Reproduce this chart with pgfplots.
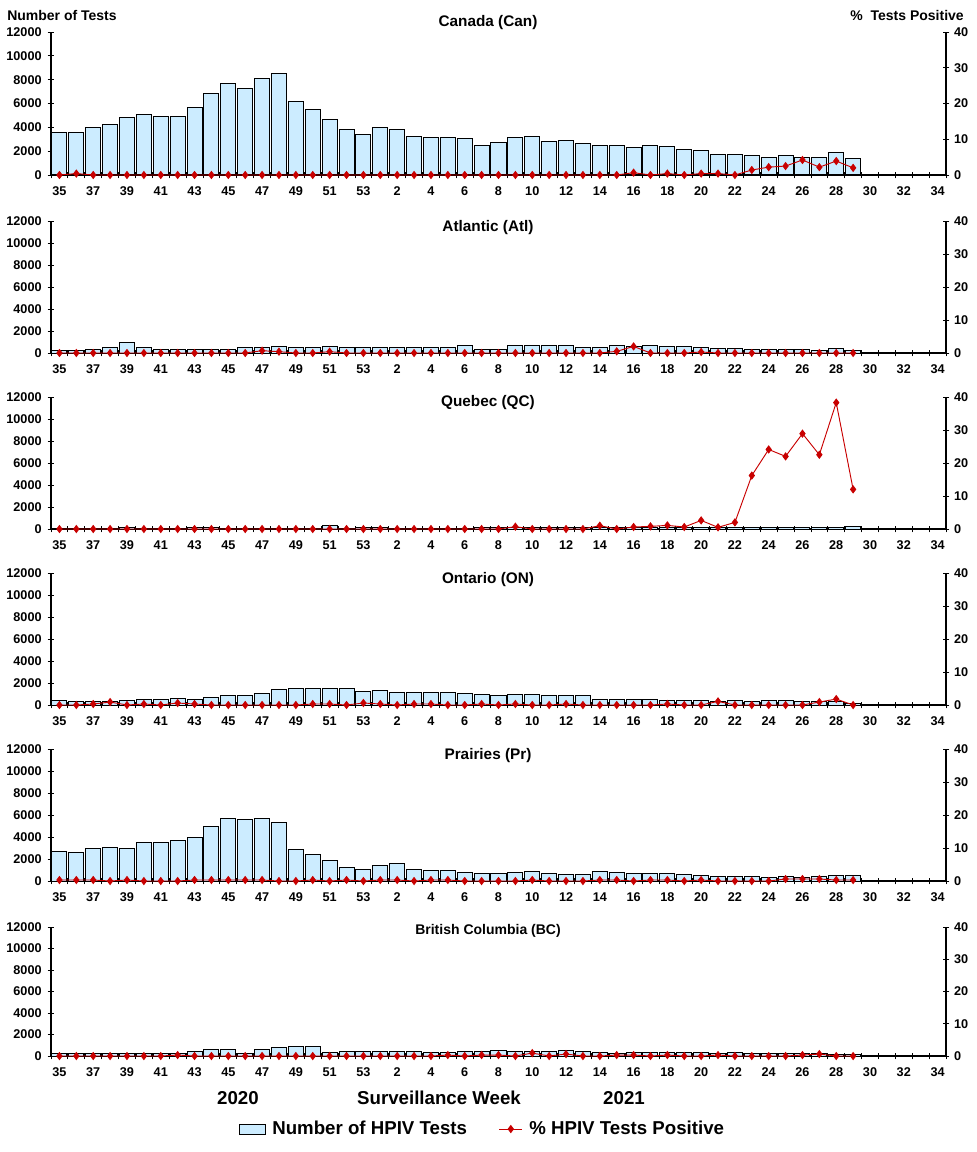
\documentclass[border=0pt]{standalone}
\usepackage{fontspec}
\setmainfont{Liberation Sans}
\usepackage{pgfplots}
\usepackage{pgfplotstable}
\pgfplotsset{compat=1.18}
\definecolor{barfill}{RGB}{204,236,255}
\definecolor{pctred}{RGB}{200,0,0}

% x: 0..18 = weeks 35..53 (2020), 19..47 = weeks 1..29 (2021)
\pgfplotstableread{
x  can  canp atl  atlp qc  qcp  on   onp pr   prp bc  bcp
0  3600 0    210  0    80  0    430  0   2700 0.3 190 0
1  3530 0.4  210  0    80  0    330  0   2610 0.3 190 0
2  3950 0    300  0    80  0    330  0.3 2970 0.3 190 0
3  4200 0    480  0    80  0    330  0.9 3060 0   190 0
4  4790 0    1000 0    150 0    430  0   2970 0.3 250 0
5  5050 0    480  0    80  0    520  0.3 3520 0   250 0
6  4900 0    300  0    80  0    520  0   3520 0   250 0
7  4880 0    300  0    80  0    610  0.6 3700 0   190 0.3
8  5640 0    360  0    150 0    520  0.3 3970 0.3 430 0
9  6810 0    300  0    150 0    700  0   4970 0.3 620 0
10 7650 0    360  0    80  0    820  0   5700 0.3 620 0
11 7260 0    480  0    80  0    880  0   5610 0.3 190 0
12 8070 0    480  0.7  80  0    1060 0   5700 0.3 620 0
13 8490 0    630  0.4  80  0    1430 0   5330 0   810 0
14 6140 0    480  0    80  0    1520 0   2880 0   900 0
15 5470 0    480  0    80  0    1520 0.3 2420 0.3 900 0
16 4630 0    630  0.4  330 0    1520 0.3 1880 0   340 0
17 3780 0    480  0    80  0    1520 0   1240 0.3 430 0
18 3360 0    480  0    150 0    1250 0.6 1060 0   430 0
19 3950 0    480  0    150 0    1340 0.3 1420 0.3 430 0
20 3780 0    480  0    80  0    1150 0   1610 0.3 430 0
21 3200 0    480  0    80  0    1150 0.3 1060 0   430 0
22 3110 0    480  0    80  0    1150 0.3 970  0.3 340 0
23 3110 0    480  0    80  0    1150 0   970  0.3 340 0.3
24 3030 0    660  0    80  0    1060 0   790  0   430 0
25 2440 0    300  0    150 0    970  0.3 700  0   430 0.3
26 2690 0    360  0    100 0    880  0   700  0   530 0.3
27 3110 0    720  0    100 0.7  970  0.3 790  0   430 0
28 3200 0    720  0    100 0    970  0   880  0.3 430 0.9
29 2780 0    720  0    100 0    880  0   700  0   430 0
30 2860 0    720  0    100 0    880  0.3 610  0   530 0.6
31 2610 0    540  0    100 0    880  0   610  0   430 0
32 2440 0    540  0    150 1.0  520  0   880  0.3 340 0
33 2440 0    720  0.5  150 0    520  0   790  0.3 250 0.3
34 2270 0.65 600  2.0  150 0.6  520  0   700  0   340 0.3
35 2440 0    720  0    150 0.8  520  0   700  0.3 340 0
36 2350 0.4  630  0    150 1.1  430  0.3 700  0.3 340 0.3
37 2100 0    630  0    150 0.6  430  0   610  0   340 0
38 2020 0.4  540  0.3  150 2.6  430  0   520  0.3 340 0
39 1680 0.4  450  0    150 0.5  330  1.1 420  0   250 0.3
40 1680 0    450  0    180 2.0  430  0   420  0   340 0
41 1600 1.4  360  0    180 16.2 330  0   420  0   250 0
42 1510 2.2  360  0    180 24.1 430  0   330  0   250 0
43 1600 2.5  360  0    180 22.0 430  0   420  0.6 250 0
44 1430 4.2  360  0    180 28.9 330  0   330  0.6 250 0.3
45 1430 2.2  270  0    150 22.5 330  0.9 420  0.6 250 0.6
46 1850 3.9  450  0    180 38.3 330  1.8 520  0.3 160 0
47 1350 2.0  270  0    270 12.0 150  0   520  0.3 160 0
}\data

\pgfplotsset{
  common/.style={scale only axis, width=671.25pt, xmin=-0.5, xmax=52.5,
    anchor=south west,
    tick label style={font=\fontsize{9.5}{10}\selectfont\bfseries},
    /pgf/number format/assume math mode=true,
    /pgf/number format/set thousands separator={},
    tick align=center, major tick length=5pt,
    tick style={black, line width=0.6pt},
    axis line style={black, line width=0.8pt}},
  barax/.style={common, ymin=0, ymax=12000, ytick={0,2000,...,12000},
    scaled y ticks=false, axis y line*=left, axis x line*=bottom,
    xtick={-0.5,0.5,...,52.5}, xticklabels={},
    extra x ticks={0,2,...,52},
    extra x tick labels={35,37,39,41,43,45,47,49,51,53,2,4,6,8,10,12,14,16,18,20,22,24,26,28,30,32,34},
    extra x tick style={major tick length=0pt},
    xticklabel style={yshift=-5.5pt},
    yticklabel style={xshift=-1pt}},
  lineax/.style={common, ymin=0, ymax=40, ytick={0,10,...,40},
    axis y line*=right, axis x line=none, clip=false},
  bars/.style={ybar, bar width=0.89, fill=barfill, draw=black, line width=0.75pt},
  pct/.style={pctred, line width=0.7pt, mark=diamond*, mark size=2.6pt,
    mark options={fill=pctred, draw=pctred}},
  barlegend/.style={legend image code/.code={%
    \draw[fill=barfill, draw=black, line width=0.75pt] (0pt,-3.75pt) rectangle (19pt,3.75pt);}},
}

\newcommand{\panel}[4]{%
  \begin{axis}[barax, at={(0,-#1)}, height=#2]
    \addplot[bars] table[x=x, y=#3] {\data};
  \end{axis}
  \begin{axis}[lineax, at={(0,-#1)}, height=#2]
    \addplot[pct] table[x=x, y=#4] {\data};
  \end{axis}}

\begin{document}
\begin{tikzpicture}
\path[use as bounding box] (-38.25pt,0pt) rectangle (693.75pt,-864pt);

\panel{131.25pt}{107.25pt}{can}{canp}
\panel{264.75pt}{99pt}{atl}{atlp}
\panel{396.75pt}{99pt}{qc}{qcp}
\panel{528.75pt}{99pt}{on}{onp}
\panel{660.75pt}{99pt}{pr}{prp}

\begin{axis}[barax, at={(0,-792pt)}, height=96.75pt]
  \addplot[bars] table[x=x, y=bc] {\data};
\end{axis}
\begin{axis}[lineax, at={(0,-792pt)}, height=96.75pt,
    legend style={at={(0.4827,-0.566)}, anchor=center, draw=none, fill=none,
      legend columns=2, font=\fontsize{14}{16}\selectfont\bfseries,
      /tikz/every odd column/.append style={column sep=3pt},
      /tikz/every even column/.append style={column sep=22pt}}]
  \addlegendimage{barlegend}
  \addlegendentry{Number of HPIV Tests}
  \addplot[pct] table[x=x, y=bcp] {\data};
  \addlegendentry{\% HPIV Tests Positive}
\end{axis}

\begin{scope}[every node/.style={font=\bfseries, inner sep=0pt}]
\node[font=\fontsize{10.5}{12}\selectfont\bfseries, anchor=west] at (-33pt,-11.25pt) {Number of Tests};
\node[font=\fontsize{10.5}{12}\selectfont\bfseries, anchor=east] at (684.75pt,-11.25pt) {\%\ \ Tests Positive};
\node[font=\fontsize{11.5}{13}\selectfont\bfseries] at (327.75pt,-17.25pt) {Canada (Can)};
\node[font=\fontsize{11.5}{13}\selectfont\bfseries] at (327.75pt,-171pt) {Atlantic (Atl)};
\node[font=\fontsize{11.5}{13}\selectfont\bfseries] at (327.75pt,-302.25pt) {Quebec (QC)};
\node[font=\fontsize{11.5}{13}\selectfont\bfseries] at (327.75pt,-435pt) {Ontario (ON)};
\node[font=\fontsize{11.5}{13}\selectfont\bfseries] at (327.75pt,-567pt) {Prairies (Pr)};
\node[font=\fontsize{10.5}{12}\selectfont\bfseries] at (327.75pt,-698.25pt) {British Columbia (BC)};
\node[font=\fontsize{14}{16}\selectfont\bfseries] at (140.25pt,-823.5pt) {2020};
\node[font=\fontsize{14}{16}\selectfont\bfseries] at (291pt,-823.5pt) {Surveillance Week};
\node[font=\fontsize{14}{16}\selectfont\bfseries] at (429.75pt,-823.5pt) {2021};
\end{scope}
\end{tikzpicture}
\end{document}
